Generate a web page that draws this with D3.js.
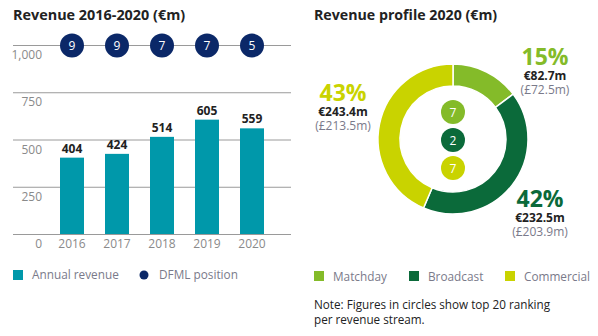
<!DOCTYPE html>
<html lang="en">
  <head>
    <meta charset="utf-8">
    <title>Revenue</title>
    <script src="https://d3js.org/d3.v7.min.js"></script>
    <style>
      body { margin: 0; background: #fff; }
      text { font-family: "Open Sans", sans-serif; }
    </style>
  </head>
  <body>
  <script>

  // data
  var years = ["2016", "2017", "2018", "2019", "2020"];
  var revenue = [404, 424, 514, 605, 559];
  var dfmlPosition = [9, 9, 7, 7, 5];
  var yTicks = [0, 250, 500, 750, 1000];

  var streams = ["Matchday", "Broadcast", "Commercial"];
  var streamValues = [82.7, 232.5, 243.4];
  var streamPct = ["15%", "42%", "43%"];
  var streamEuro = ["€82.7m", "€232.5m", "€243.4m"];
  var streamGbp = ["(£72.5m)", "(£203.9m)", "(£213.5m)"];
  var streamRank = [7, 2, 7];
  var streamColors = ["#84bb29", "#0b6a3a", "#c9d300"];

  var w = 598, h = 336;
  var svg = d3.select("body").append("svg")
      .attr("width", w)
      .attr("height", h);

  // ---- left: bar chart
  svg.append("text")
      .attr("x", 13).attr("y", 20)
      .attr("font-size", 14.4).attr("font-weight", 700)
      .attr("fill", "#222")
      .text("Revenue 2016-2020 (€m)");

  var x = d3.scaleBand()
      .domain(years)
      .range([49.5, 274.5])
      .paddingInner(0.4667)
      .paddingOuter(0.2333);

  var y = d3.scaleLinear()
      .domain([0, 1000])
      .range([234, 45]);

  var grid = svg.append("g");
  grid.selectAll("line")
    .data(yTicks)
    .enter().append("line")
      .attr("x1", 13).attr("x2", 291)
      .attr("y1", d => y(d) + 0.5).attr("y2", d => y(d) + 0.5)
      .attr("stroke", "#9a9a9a")
      .attr("stroke-width", 1);

  grid.selectAll("text")
    .data(yTicks)
    .enter().append("text")
      .attr("x", 42)
      .attr("y", d => y(d) + 14)
      .attr("text-anchor", "end")
      .attr("font-size", 12)
      .attr("fill", "#8a8a8a")
      .text(d => d3.format(",")(d));

  svg.selectAll("rect.bar")
    .data(revenue)
    .enter().append("rect")
      .attr("class", "bar")
      .attr("x", (d, i) => x(years[i]))
      .attr("width", x.bandwidth())
      .attr("y", d => y(d))
      .attr("height", d => y(0) - y(d))
      .attr("fill", "#0098aa");

  svg.selectAll("text.val")
    .data(revenue)
    .enter().append("text")
      .attr("class", "val")
      .attr("x", (d, i) => x(years[i]) + x.bandwidth() / 2)
      .attr("y", d => y(d) - 5)
      .attr("text-anchor", "middle")
      .attr("font-size", 12).attr("font-weight", 700)
      .attr("fill", "#222")
      .text(d => d);

  svg.selectAll("text.year")
    .data(years)
    .enter().append("text")
      .attr("class", "year")
      .attr("x", d => x(d) + x.bandwidth() / 2)
      .attr("y", y(0) + 14)
      .attr("text-anchor", "middle")
      .attr("font-size", 12)
      .attr("fill", "#8a8a8a")
      .text(d => d);

  var pos = svg.selectAll("g.pos")
    .data(dfmlPosition)
    .enter().append("g")
      .attr("class", "pos")
      .attr("transform", (d, i) => `translate(${x(years[i]) + x.bandwidth() / 2}, ${y(1000) + 0.5})`);
  pos.append("circle").attr("r", 12).attr("fill", "#0b2868");
  pos.append("text")
      .attr("y", 4.5)
      .attr("text-anchor", "middle")
      .attr("font-size", 12)
      .attr("fill", "#fff")
      .text(d => d);

  // left legend
  svg.append("rect").attr("x", 13).attr("y", 270).attr("width", 10).attr("height", 10).attr("fill", "#0098aa");
  svg.append("text").attr("x", 32).attr("y", 279).attr("font-size", 11.8).attr("fill", "#7a7a8a").text("Annual revenue");
  svg.append("circle").attr("cx", 144).attr("cy", 275).attr("r", 4.5).attr("fill", "#0b2868");
  svg.append("text").attr("x", 159).attr("y", 279).attr("font-size", 11.8).attr("fill", "#7a7a8a").text("DFML position");

  // ---- right: donut
  svg.append("text")
      .attr("x", 314).attr("y", 20)
      .attr("font-size", 14.2).attr("font-weight", 700)
      .attr("fill", "#222")
      .text("Revenue profile 2020 (€m)");

  var cx = 453, cy = 139;
  var pie = d3.pie().sort(null)(streamValues);
  var arc = d3.arc().innerRadius(53).outerRadius(75);

  var donut = svg.append("g").attr("transform", `translate(${cx}, ${cy})`);
  donut.selectAll("path")
    .data(pie)
    .enter().append("path")
      .attr("d", arc)
      .attr("fill", (d, i) => streamColors[i])
      .attr("stroke", "#fff")
      .attr("stroke-width", 1.5);

  var rankY = d3.scalePoint().domain(streams).range([-27, 29]);
  var rank = donut.selectAll("g.rank")
    .data(streamRank)
    .enter().append("g")
      .attr("class", "rank")
      .attr("transform", (d, i) => `translate(0, ${rankY(streams[i])})`);
  rank.append("circle").attr("r", 12).attr("fill", (d, i) => streamColors[i]);
  rank.append("text")
      .attr("y", 4.5)
      .attr("text-anchor", "middle")
      .attr("font-size", 12)
      .attr("fill", "#fff")
      .text(d => d);

  // callout labels: [x, baseline of pct]
  var labelPos = [[545, 65], [540, 207], [343, 101]];
  var lab = svg.selectAll("g.lab")
    .data(streams)
    .enter().append("g")
      .attr("class", "lab")
      .attr("transform", (d, i) => `translate(${labelPos[i][0]}, ${labelPos[i][1]})`);
  lab.append("text")
      .attr("text-anchor", "middle")
      .attr("font-size", 23).attr("font-weight", 700)
      .attr("fill", (d, i) => streamColors[i])
      .text((d, i) => streamPct[i]);
  lab.append("text")
      .attr("y", 15)
      .attr("text-anchor", "middle")
      .attr("font-size", 12).attr("font-weight", 700)
      .attr("fill", "#222")
      .text((d, i) => streamEuro[i]);
  lab.append("text")
      .attr("y", 29)
      .attr("text-anchor", "middle")
      .attr("font-size", 12)
      .attr("fill", "#7a7a8a")
      .text((d, i) => streamGbp[i]);

  // right legend
  var legX = [314, 409, 505];
  var leg = svg.selectAll("g.leg")
    .data(streams)
    .enter().append("g")
      .attr("class", "leg")
      .attr("transform", (d, i) => `translate(${legX[i]}, 271)`);
  leg.append("rect").attr("width", 10).attr("height", 10).attr("fill", (d, i) => streamColors[i]);
  leg.append("text").attr("x", 19).attr("y", 10).attr("font-size", 11.8).attr("fill", "#7a7a8a").text(d => d);

  svg.append("text").attr("x", 314).attr("y", 309).attr("font-size", 11.7).attr("fill", "#222")
      .text("Note: Figures in circles show top 20 ranking");
  svg.append("text").attr("x", 314).attr("y", 324).attr("font-size", 11.7).attr("fill", "#222")
      .text("per revenue stream.");

  </script>
  </body>
</html>
